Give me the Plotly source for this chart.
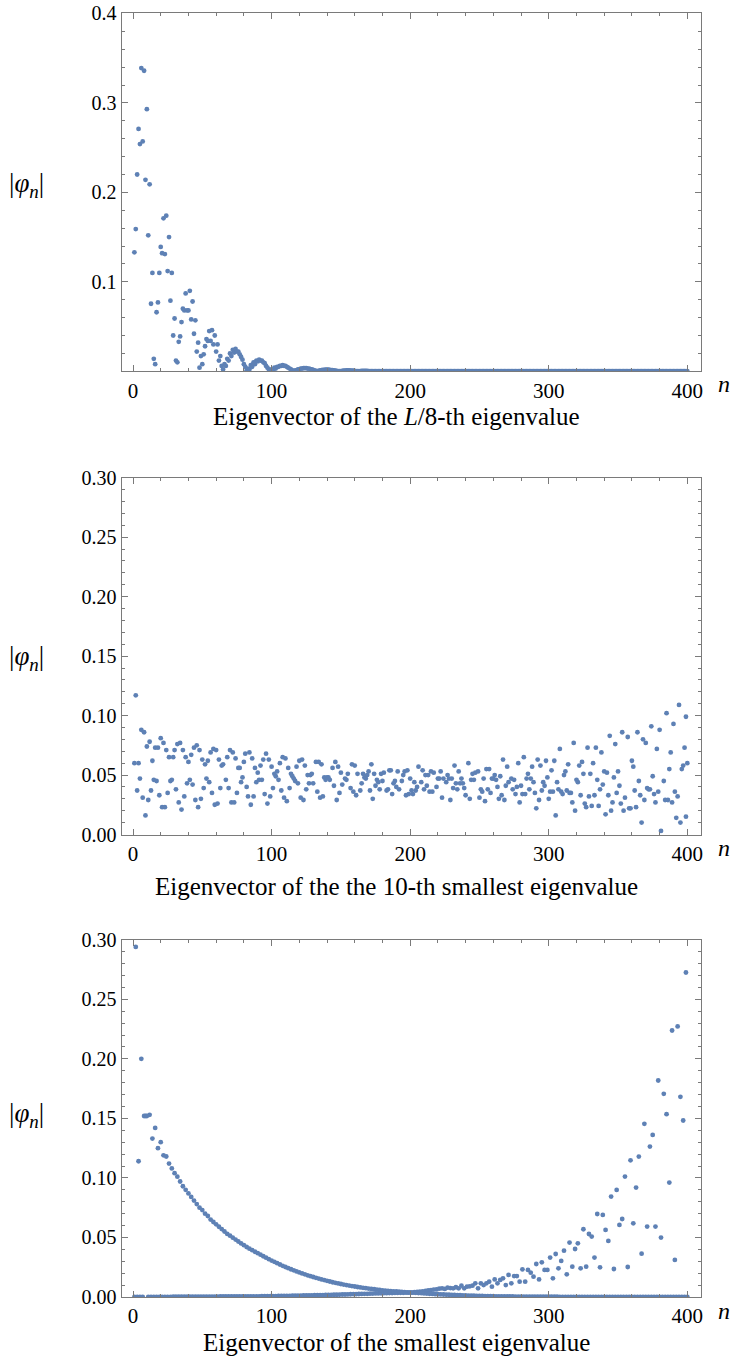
import plotly.graph_objects as go

# ---------------- data ----------------
x_tick_vals = [0, 100, 200, 300, 400]
x_tick_text = ["0", "100", "200", "300", "400"]

# Panel 1: |phi_n| for n = 1..400 (eigenvector of the L/8-th eigenvalue)
v1 = [
    0.133, 0.159, 0.220, 0.271, 0.254, 0.339, 0.257, 0.336, 0.214, 0.293,
    0.152, 0.209, 0.0755, 0.110, 0.014, 0.008, 0.066, 0.077, 0.110, 0.139,
    0.132, 0.171, 0.131, 0.174, 0.112, 0.150, 0.079, 0.110, 0.040, 0.059,
    0.012, 0.010, 0.033, 0.039, 0.055, 0.070, 0.068, 0.087, 0.068, 0.068,
    0.090, 0.058, 0.078, 0.042, 0.057, 0.022, 0.032, 0.004, 0.017, 0.008,
    0.019, 0.028, 0.036, 0.034, 0.045, 0.034, 0.046, 0.030, 0.040, 0.022,
    0.030, 0.012, 0.017, 0.006, 0.002, 0.008, 0.006, 0.014, 0.012, 0.020,
    0.017, 0.024, 0.021, 0.025, 0.022, 0.022, 0.019, 0.016, 0.013, 0.008,
    0.005, 0.001, 0.003, 0.002, 0.007, 0.005, 0.010, 0.008, 0.012, 0.011,
    0.013, 0.012, 0.012, 0.010, 0.009, 0.006, 0.004, 0.002, 0.0005, 0.002,
    0.001, 0.004, 0.003, 0.005, 0.005, 0.006, 0.006, 0.007, 0.006, 0.006,
    0.005, 0.004, 0.003, 0.002, 0.001, 0.0003, 0.001, 0.001, 0.002, 0.002,
    0.003, 0.003, 0.0035, 0.0035, 0.0035, 0.003, 0.003, 0.0025, 0.002, 0.0015,
    0.001, 0.0005, 0.0002, 0.0005, 0.001, 0.0012, 0.0015, 0.0017, 0.0018, 0.0018,
    0.0018, 0.0016, 0.0014, 0.0012, 0.001, 0.0007, 0.0004, 0.0002, 0.0001, 0.0003,
    0.0005, 0.0007, 0.0008, 0.0009, 0.0009, 0.0009, 0.0008, 0.0007, 0.0006, 0.0004,
    0.0003, 0.0001, 0.0002, 0.0003, 0.0004, 0.0005, 0.0005, 0.0005, 0.0004, 0.0003,
    0.0002, 0.0002, 0.0003, 0.0003, 0.0003, 0.0003, 0.0002, 0.0002, 0.0001, 0.0001,
    0.0001, 0.0002, 0.0002, 0.0002, 0.0002, 0.0001, 0.0001, 0.0001, 0.0001, 0.0001,
    0.0001, 0.0001, 0.0001, 0.0001, 0.0001, 0.0001, 0.0001, 0.0001, 0.0001, 0.0001,  # 191-200
    0.0001, 0.0001, 0.0001, 0.0001, 0.0001, 0.0001, 0.0001, 0.0001, 0.0001, 0.0001,  # 201-210
    0.0001, 0.0001, 0.0001, 0.0001, 0.0001, 0.0001, 0.0001, 0.0001, 0.0001, 0.0001,  # 211-220
    0.0001, 0.0001, 0.0001, 0.0001, 0.0001, 0.0001, 0.0001, 0.0001, 0.0001, 0.0001,  # 221-230
    0.0001, 0.0001, 0.0001, 0.0001, 0.0001, 0.0001, 0.0001, 0.0001, 0.0001, 0.0001,  # 231-240
    0.0001, 0.0001, 0.0001, 0.0001, 0.0001, 0.0001, 0.0001, 0.0001, 0.0001, 0.0001,  # 241-250
    0.0001, 0.0001, 0.0001, 0.0001, 0.0001, 0.0001, 0.0001, 0.0001, 0.0001, 0.0001,  # 251-260
    0.0001, 0.0001, 0.0001, 0.0001, 0.0001, 0.0001, 0.0001, 0.0001, 0.0001, 0.0001,  # 261-270
    0.0001, 0.0001, 0.0001, 0.0001, 0.0001, 0.0001, 0.0001, 0.0001, 0.0001, 0.0001,  # 271-280
    0.0001, 0.0001, 0.0001, 0.0001, 0.0001, 0.0001, 0.0001, 0.0001, 0.0001, 0.0001,  # 281-290
    0.0001, 0.0001, 0.0001, 0.0001, 0.0001, 0.0001, 0.0001, 0.0001, 0.0001, 0.0001,  # 291-300
    0.0001, 0.0001, 0.0001, 0.0001, 0.0001, 0.0001, 0.0001, 0.0001, 0.0001, 0.0001,  # 301-310
    0.0001, 0.0001, 0.0001, 0.0001, 0.0001, 0.0001, 0.0001, 0.0001, 0.0001, 0.0001,  # 311-320
    0.0001, 0.0001, 0.0001, 0.0001, 0.0001, 0.0001, 0.0001, 0.0001, 0.0001, 0.0001,  # 321-330
    0.0001, 0.0001, 0.0001, 0.0001, 0.0001, 0.0001, 0.0001, 0.0001, 0.0001, 0.0001,  # 331-340
    0.0001, 0.0001, 0.0001, 0.0001, 0.0001, 0.0001, 0.0001, 0.0001, 0.0001, 0.0001,  # 341-350
    0.0001, 0.0001, 0.0001, 0.0001, 0.0001, 0.0001, 0.0001, 0.0001, 0.0001, 0.0001,  # 351-360
    0.0001, 0.0001, 0.0001, 0.0001, 0.0001, 0.0001, 0.0001, 0.0001, 0.0001, 0.0001,  # 361-370
    0.0001, 0.0001, 0.0001, 0.0001, 0.0001, 0.0001, 0.0001, 0.0001, 0.0001, 0.0001,  # 371-380
    0.0001, 0.0001, 0.0001, 0.0001, 0.0001, 0.0001, 0.0001, 0.0001, 0.0001, 0.0001,  # 381-390
    0.0001, 0.0001, 0.0001, 0.0001, 0.0001, 0.0001, 0.0001, 0.0001, 0.0001, 0.0001,  # 391-400
]
n1 = list(range(1, len(v1) + 1))

# Panel 2: eigenvector of the 10-th smallest eigenvalue (n, |phi_n|) as read
n2 = [
    1, 2, 3, 4, 5, 6, 7, 8, 9, 10, 11, 12, 13, 14, 15, 16, 17, 18, 19, 20,
    21, 22, 23, 24, 25, 26, 27, 28, 29, 30, 31, 32, 33, 34, 35, 36, 37, 38, 39, 40,
    41, 42, 43, 44, 45, 46, 47, 48, 49, 50, 51, 52, 53, 54, 55, 56, 57, 58, 59, 60,
    61, 62, 63, 64, 65, 67, 68, 69, 70, 71, 72, 73, 74, 75, 76, 77, 78, 79, 80,
    81, 82, 83, 84, 85, 86, 87, 88, 89, 90, 91, 92, 93, 94, 95, 96, 97, 98, 99, 100,
    101, 102, 103, 104, 105, 106, 107, 108, 109, 110, 111, 112, 113, 114, 115, 116, 117, 118, 119, 120,
    121, 122, 123, 124, 125, 126, 127, 128, 129, 130, 132, 133, 134, 135, 136, 137, 138, 139, 140,
    141, 142, 144, 145, 146, 147, 148, 149, 150, 151, 153, 154, 155, 157, 158, 159, 160,
    161, 162, 164, 165, 166, 167, 168, 169, 170, 171, 172, 173, 174, 175, 176, 177, 178, 179, 180,
    181, 183, 184, 185, 186, 187, 188, 189, 190, 191, 192, 194, 195, 196, 197, 198, 199, 200,
    201, 202, 203, 204, 205, 206, 208, 209, 210, 211, 212, 213, 214, 215, 216, 217, 219, 220,
    221, 222, 223, 224, 226, 227, 228, 229, 230, 231, 232, 233, 234, 235, 236, 237, 238, 239, 240,
    242, 243, 244, 245, 246, 247, 249, 250, 251, 252, 253, 254, 255, 256, 257, 258, 259, 260,
    261, 262, 263, 264, 265, 266, 267, 268, 269, 270, 271, 273, 274, 275, 276, 277, 278, 279, 280,
    281, 282, 283, 284, 285, 286, 287, 288, 289, 290, 291, 292, 293, 294, 295, 296, 297, 298, 299, 300,
    301, 302, 303, 304, 305, 306, 307, 308, 309, 310, 311, 312, 313, 314, 315, 316, 317, 318, 319, 320,
    321, 322, 323, 324, 325, 326, 327, 328, 329, 330, 331, 332, 333, 334, 335, 336, 337, 338, 339, 340,
    341, 342, 343, 344, 345, 346, 347, 348, 349, 350, 351, 352, 353, 354, 355, 357, 358, 359, 360,
    361, 362, 363, 364, 365, 366, 367, 368, 369, 370, 371, 372, 373, 374, 375, 376, 377, 378, 379, 380,
    381, 383, 384, 385, 386, 387, 388, 389, 390, 391, 392, 393, 394, 395, 396, 397, 398, 399, 399, 400,
]
v2 = [
    0.060, 0.117, 0.037, 0.060, 0.047, 0.088, 0.031, 0.086, 0.016, 0.074, 0.029, 0.078, 0.037, 0.062, 0.046, 0.073, 0.045, 0.073, 0.033, 0.081,
    0.023, 0.077, 0.023, 0.071, 0.035, 0.065, 0.045, 0.046, 0.065, 0.071, 0.038, 0.076, 0.027, 0.077, 0.021, 0.071, 0.032, 0.065, 0.043, 0.061,
    0.046, 0.067, 0.042, 0.073, 0.029, 0.075, 0.023, 0.071, 0.030, 0.063, 0.039, 0.059, 0.047, 0.062, 0.044, 0.069, 0.035, 0.072, 0.025, 0.071,
    0.026, 0.063, 0.039, 0.058, 0.059, 0.046, 0.065, 0.039, 0.071, 0.027, 0.069, 0.027, 0.064, 0.035, 0.056, 0.056, 0.044, 0.048, 0.061,
    0.068, 0.040, 0.032, 0.069, 0.025, 0.064, 0.032, 0.056, 0.044, 0.052, 0.046, 0.058, 0.046, 0.063, 0.034, 0.068, 0.026, 0.063, 0.032, 0.057,
    0.039, 0.051, 0.049, 0.053, 0.046, 0.060, 0.037, 0.065, 0.031, 0.064, 0.028, 0.056, 0.039, 0.051, 0.049, 0.047, 0.045, 0.057, 0.043, 0.062,
    0.031, 0.063, 0.029, 0.058, 0.038, 0.050, 0.043, 0.050, 0.051, 0.043, 0.061, 0.036, 0.061, 0.031, 0.059, 0.032, 0.048, 0.046, 0.048,
    0.048, 0.046, 0.056, 0.041, 0.061, 0.029, 0.057, 0.035, 0.052, 0.042, 0.047, 0.046, 0.051, 0.039, 0.059, 0.036, 0.058,
    0.033, 0.051, 0.037, 0.043, 0.051, 0.048, 0.047, 0.050, 0.053, 0.037, 0.059, 0.030, 0.051, 0.041, 0.046, 0.044, 0.038, 0.051, 0.045,
    0.052, 0.037, 0.038, 0.054, 0.054, 0.034, 0.043, 0.045, 0.040, 0.053, 0.038, 0.045, 0.050, 0.053, 0.033, 0.054, 0.034, 0.047,
    0.037, 0.034, 0.044, 0.037, 0.040, 0.057, 0.044, 0.054, 0.038, 0.050, 0.041, 0.050, 0.036, 0.053, 0.036, 0.052, 0.040, 0.047,
    0.047, 0.053, 0.031, 0.047, 0.044, 0.050, 0.047, 0.029, 0.047, 0.039, 0.058, 0.043, 0.038, 0.053, 0.043, 0.047, 0.043, 0.039, 0.033,
    0.060, 0.030, 0.046, 0.051, 0.046, 0.052, 0.053, 0.031, 0.038, 0.036, 0.047, 0.028, 0.055, 0.038, 0.055, 0.035, 0.047, 0.047,
    0.050, 0.046, 0.040, 0.030, 0.049, 0.033, 0.063, 0.029, 0.041, 0.057, 0.044, 0.047, 0.038, 0.046, 0.034, 0.040, 0.060, 0.027, 0.041,
    0.034, 0.065, 0.034, 0.047, 0.051, 0.038, 0.047, 0.057, 0.044, 0.035, 0.022, 0.063, 0.029, 0.058, 0.037, 0.044, 0.041, 0.062, 0.048, 0.030,
    0.036, 0.054, 0.036, 0.062, 0.016, 0.044, 0.038, 0.072, 0.036, 0.034, 0.050, 0.053, 0.037, 0.059, 0.035, 0.035, 0.027, 0.077, 0.020, 0.046,
    0.044, 0.058, 0.033, 0.061, 0.051, 0.026, 0.023, 0.073, 0.032, 0.051, 0.024, 0.060, 0.033, 0.073, 0.046, 0.024, 0.038, 0.069, 0.042, 0.053,
    0.017, 0.052, 0.033, 0.083, 0.020, 0.027, 0.048, 0.076, 0.035, 0.053, 0.041, 0.026, 0.086, 0.020, 0.031, 0.082, 0.022, 0.022, 0.062,
    0.057, 0.037, 0.023, 0.086, 0.045, 0.033, 0.010, 0.080, 0.029, 0.077, 0.039, 0.038, 0.038, 0.091, 0.049, 0.034, 0.027, 0.072, 0.036, 0.088,
    0.003, 0.045, 0.029, 0.102, 0.029, 0.055, 0.069, 0.027, 0.093, 0.036, 0.014, 0.032, 0.109, 0.010, 0.055, 0.058, 0.073, 0.015, 0.099, 0.060,
]

# Panel 3: eigenvector of the smallest eigenvalue, split by parity of n
v3_even = [  # n = 2, 4, ..., 400
    0.294, 0.114, 0.200, 0.152, 0.152, 0.153, 0.133, 0.142, 0.125, 0.130,
    0.119, 0.118, 0.112, 0.108, 0.104, 0.101, 0.097, 0.093, 0.090, 0.087,
    0.084, 0.081, 0.078, 0.075, 0.073, 0.070, 0.068, 0.065, 0.063, 0.061,
    0.059, 0.057, 0.055, 0.053, 0.0515, 0.0498, 0.0482, 0.0466, 0.0450, 0.0435,
    0.0420, 0.0406, 0.0393, 0.0380, 0.0368, 0.0355, 0.0342, 0.0330, 0.0318, 0.0306,
    0.0295, 0.0284, 0.0273, 0.0262, 0.0252, 0.0242, 0.0233, 0.0224, 0.0215, 0.0206,
    0.0198, 0.0190, 0.0182, 0.0175, 0.0168, 0.0161, 0.0155, 0.0148, 0.0142, 0.0136,
    0.0130, 0.0124, 0.0119, 0.0114, 0.0109, 0.0104, 0.0100, 0.0096, 0.0092, 0.0088,
    0.0084, 0.0080, 0.0077, 0.0074, 0.0071, 0.0068, 0.0065, 0.0062, 0.0059, 0.0056,
    0.0054, 0.0052, 0.0050, 0.0048, 0.0046, 0.0044, 0.0042, 0.0041, 0.0039, 0.0038,
    0.0036, 0.0035, 0.0033, 0.0032, 0.0030, 0.0029, 0.0027, 0.0026, 0.0024, 0.0023,
    0.0022, 0.0021, 0.0020, 0.0019, 0.0018, 0.0017, 0.0016, 0.0015, 0.0014, 0.0013,
    0.0012, 0.0012, 0.0011, 0.0010, 0.0010, 0.0009, 0.0008, 0.0008, 0.0007, 0.0007,
    0.0006, 0.0006, 0.0005, 0.0005, 0.0004, 0.0004, 0.0004, 0.0003, 0.0003, 0.0003,
    0.0003, 0.0003, 0.0002, 0.0002, 0.0002, 0.0002, 0.0002, 0.0002, 0.0002, 0.0002,
    0.0002, 0.0002, 0.0002, 0.0001, 0.0001, 0.0001, 0.0001, 0.0001, 0.0001, 0.0001,
    0.0001, 0.0001, 0.0001, 0.0001, 0.0001, 0.0001, 0.0001, 0.0001, 0.0001, 0.0001,
    0.0001, 0.0001, 0.0001, 0.0001, 0.0001, 0.0001, 0.0001, 0.0001, 0.0001, 0.0001,
    0.0001, 0.0001, 0.0001, 0.0001, 0.0001, 0.0001, 0.0001, 0.0001, 0.0001, 0.0001,
    0.0001, 0.0001, 0.0001, 0.0001, 0.0001, 0.0001, 0.0001, 0.0001, 0.0001, 0.0001,
]
v3_odd = [  # n = 1, 3, ..., 399
    0.0000, 0.0001, 0.0001, 0.0001, 0.152, 0.0001, 0.0001, 0.0001, 0.0001, 0.0001,
    0.0001, 0.0001, 0.0001, 0.0001, 0.0002, 0.0002, 0.0002, 0.0002, 0.0002, 0.0002,
    0.0002, 0.0002, 0.0002, 0.0003, 0.0003, 0.0003, 0.0003, 0.0003, 0.0003, 0.0003,
    0.0003, 0.0004, 0.0004, 0.0004, 0.0004, 0.0004, 0.0004, 0.0005, 0.0005, 0.0005,
    0.0005, 0.0005, 0.0006, 0.0006, 0.0006, 0.0006, 0.0007, 0.0007, 0.0007, 0.0008,
    0.0008, 0.0008, 0.0009, 0.0009, 0.0010, 0.0010, 0.0010, 0.0011, 0.0011, 0.0012,
    0.0012, 0.0013, 0.0013, 0.0014, 0.0014, 0.0015, 0.0015, 0.0016, 0.0016, 0.0017,
    0.0017, 0.0018, 0.0019, 0.0019, 0.0020, 0.0021, 0.0021, 0.0022, 0.0023, 0.0024,
    0.0024, 0.0025, 0.0026, 0.0027, 0.0027, 0.0028, 0.0029, 0.0030, 0.0030, 0.0031,
    0.0032, 0.0032, 0.0033, 0.0033, 0.0034, 0.0034, 0.0035, 0.0035, 0.0036, 0.0036,
    0.0037, 0.0040, 0.0042, 0.0045, 0.0048, 0.0051, 0.0055, 0.0058, 0.0062, 0.0064,
    0.0070, 0.0073, 0.0068, 0.0078, 0.0075, 0.0073, 0.0082, 0.0073, 0.0095, 0.0073,
    0.0087, 0.0090, 0.0095, 0.0115, 0.0073, 0.0115, 0.0100, 0.0115, 0.0129, 0.0087,
    0.0148, 0.0115, 0.0143, 0.0157, 0.0100, 0.0185, 0.0115, 0.0176, 0.0176, 0.0129,
    0.0232, 0.0129, 0.0227, 0.0204, 0.0171, 0.0277, 0.0148, 0.0291, 0.0227, 0.0227,
    0.0331, 0.0157, 0.0361, 0.0241, 0.0303, 0.0389, 0.0190, 0.0457, 0.0255, 0.0403,
    0.0451, 0.0241, 0.0569, 0.0255, 0.0529, 0.0507, 0.0331, 0.0697, 0.0249, 0.0689,
    0.0563, 0.0471, 0.0843, 0.0235, 0.0899, 0.0605, 0.0655, 0.1011, 0.0252, 0.1148,
    0.0619, 0.0919, 0.1179, 0.0364, 0.1454, 0.0591, 0.1263, 0.1361, 0.0591, 0.1818,
    0.0499, 0.1706, 0.1535, 0.0961, 0.2238, 0.0311, 0.2272, 0.1681, 0.1482, 0.2725,
]
n3_even = list(range(2, 2 * len(v3_even) + 1, 2))
n3_odd = list(range(1, 2 * len(v3_odd), 2))

captions = [
    "Eigenvector of the <i>L</i>/8-th eigenvalue",
    "Eigenvector of the the 10-th smallest eigenvalue",
    "Eigenvector of the smallest eigenvalue",
]

# ---------------- layout helpers ----------------
# The page body margin is removed (see post_script), so the figure fills
# the window; positions below are in window pixels.
W, H = 741, 1356
PT_COLOR = "#5E81B5"
FRAME = "#7a7a7a"
SERIF = "Liberation Serif, Times New Roman, serif"


def px(x):
    return x / W


def py(y):
    return 1 - y / H


frame_left, frame_right = 121.5, 700.5
panels = [
    dict(top=13.3, bottom=371.3, yr=[0, 0.4002],
         ytv=[0.1, 0.2, 0.3, 0.4], ytt=["0.1", "0.2", "0.3", "0.4"],
         ymin=[round(0.02 * k, 2) for k in range(0, 21)],
         cap_y=416, nlab_y=384, ylab_y=185),
    dict(top=477.5, bottom=834.5, yr=[0, 0.3002],
         ytv=[0, 0.05, 0.1, 0.15, 0.2, 0.25, 0.3],
         ytt=["0.00", "0.05", "0.10", "0.15", "0.20", "0.25", "0.30"],
         ymin=[round(0.01 * k, 2) for k in range(0, 31)],
         cap_y=886, nlab_y=848, ylab_y=658),
    dict(top=939.5, bottom=1297, yr=[0, 0.3002],
         ytv=[0, 0.05, 0.1, 0.15, 0.2, 0.25, 0.3],
         ytt=["0.00", "0.05", "0.10", "0.15", "0.20", "0.25", "0.30"],
         ymin=[round(0.01 * k, 2) for k in range(0, 31)],
         cap_y=1342, nlab_y=1311, ylab_y=1115),
]

fig = go.Figure()
marker = dict(size=4.8, color=PT_COLOR, line=dict(width=0))

fig.add_trace(go.Scatter(x=n1, y=v1, mode="markers", marker=marker,
                         xaxis="x", yaxis="y", showlegend=False))
fig.add_trace(go.Scatter(x=n2, y=v2, mode="markers", marker=marker,
                         xaxis="x2", yaxis="y2", showlegend=False))
fig.add_trace(go.Scatter(x=n3_odd, y=v3_odd, mode="markers", marker=marker,
                         xaxis="x3", yaxis="y3", showlegend=False))
fig.add_trace(go.Scatter(x=n3_even, y=v3_even, mode="markers", marker=marker,
                         xaxis="x3", yaxis="y3", showlegend=False))

x_minor = list(range(0, 401, 20))
xtickfont = dict(family=SERIF, size=21, color="black")
ytickfont = dict(family=SERIF, size=20, color="black")

layout = dict(
    width=W, height=H,
    margin=dict(l=0, r=0, t=0, b=0),
    paper_bgcolor="white", plot_bgcolor="white",
    showlegend=False,
)
annotations = []
for i, p in enumerate(panels):
    sfx = "" if i == 0 else str(i + 1)
    xa = "xaxis" + sfx
    ya = "yaxis" + sfx
    layout[xa] = dict(
        domain=[px(frame_left), px(frame_right)],
        anchor="y" + sfx, range=[-8.3, 409.5],
        tickmode="array", tickvals=x_tick_vals, ticktext=x_tick_text,
        ticks="inside", ticklen=6, tickwidth=1, tickcolor=FRAME,
        showline=True, linecolor=FRAME, linewidth=1, mirror="allticks",
        showgrid=False, zeroline=False, automargin=False,
        ticklabeloverflow="allow",
        tickfont=xtickfont,
        minor=dict(tickmode="array", tickvals=x_minor, ticks="inside",
                   ticklen=3, tickcolor=FRAME, showgrid=False),
    )
    layout[ya] = dict(
        domain=[py(p["bottom"]), py(p["top"])],
        anchor="x" + sfx, range=p["yr"],
        tickmode="array", tickvals=p["ytv"], ticktext=p["ytt"],
        ticks="inside", ticklen=6, tickwidth=1, tickcolor=FRAME,
        showline=True, linecolor=FRAME, linewidth=1, mirror="allticks",
        showgrid=False, zeroline=False, automargin=False,
        ticklabeloverflow="allow",
        tickfont=ytickfont,
        minor=dict(tickmode="array", tickvals=p["ymin"], ticks="inside",
                   ticklen=3, tickcolor=FRAME, showgrid=False),
    )
    annotations.append(dict(
        text="|<i>φ<sub>n</sub></i>|", x=px(27), y=py(p["ylab_y"]),
        xref="paper", yref="paper", xanchor="center", yanchor="middle",
        showarrow=False, font=dict(family=SERIF, size=27, color="black")))
    annotations.append(dict(
        text="<i>n</i>", x=px(724), y=py(p["nlab_y"]),
        xref="paper", yref="paper", xanchor="center", yanchor="middle",
        showarrow=False, font=dict(family=SERIF, size=24, color="black")))
    annotations.append(dict(
        text=captions[i], x=px(396), y=py(p["cap_y"]),
        xref="paper", yref="paper", xanchor="center", yanchor="middle",
        showarrow=False, font=dict(family=SERIF, size=25, color="black")))

layout["annotations"] = annotations
fig.update_layout(**layout)
fig.write_html(
    "out.html",
    config={"displayModeBar": False, "staticPlot": True},
    post_script="document.body.style.margin='0px';document.body.style.overflow='hidden';",
)
